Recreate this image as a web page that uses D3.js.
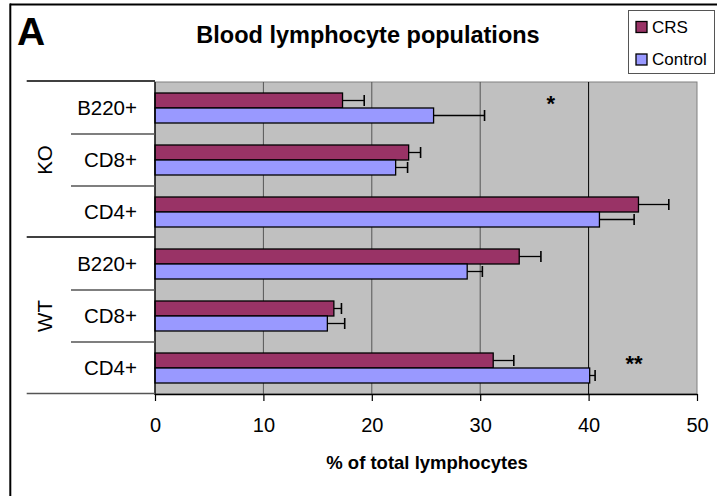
<!DOCTYPE html>
<html>
<head>
<meta charset="utf-8">
<script src="https://cdn.jsdelivr.net/npm/d3@7"></script>
<style>
  html, body { margin: 0; padding: 0; background: #fff; }
  svg { display: block; font-family: Arial, "Liberation Sans", sans-serif; }
</style>
</head>
<body>
<svg id="chart" width="717" height="496"></svg>
<script>
// Lymphocyte populations, listed top to bottom as drawn
const groups = ["KO", "KO", "KO", "WT", "WT", "WT"];
const categories = ["B220+", "CD8+", "CD4+", "B220+", "CD8+", "CD4+"];
const seriesNames = ["CRS", "Control"];
const crsValues = [17.3, 23.4, 44.6, 33.6, 16.5, 31.2];
const crsErrors = [2.0, 1.1, 2.8, 2.0, 0.7, 1.9];
const controlValues = [25.7, 22.2, 41.0, 28.8, 15.9, 40.1];
const controlErrors = [4.7, 1.1, 3.2, 1.4, 1.6, 0.5];
const xTicks = [0, 10, 20, 30, 40, 50];
// significance marks (label, x in % units), drawn beside the CRS bar
const sigLabels = ["*", "", "", "", "", "**"];
const sigX = [36.5, null, null, null, null, 44.2];

const colors = { CRS: "#993366", Control: "#9999FF" };
const keys = categories.map((c, i) => i);

const svg = d3.select("#chart");
const plotL = 155, plotR = 697, plotT = 82, plotB = 394;

const x = d3.scaleLinear().domain([0, 50]).range([plotL, plotR]);
const y = d3.scaleBand().domain(keys).range([plotT, plotB]).padding(0);
const ySub = d3.scaleBand().domain(seriesNames).range([0, y.bandwidth()])
  .paddingInner(0).paddingOuter(0.7333);

// outer frame (top and left edges)
svg.append("line").attr("x1", 10).attr("x2", 717).attr("y1", 4.5).attr("y2", 4.5)
  .attr("stroke", "#000").attr("stroke-width", 2);
svg.append("line").attr("x1", 10.3).attr("x2", 10.3).attr("y1", 3.5).attr("y2", 496)
  .attr("stroke", "#000").attr("stroke-width", 2);

// plot background
svg.append("rect").attr("x", plotL).attr("y", plotT)
  .attr("width", plotR - plotL).attr("height", plotB - plotT)
  .attr("fill", "#C0C0C0").attr("stroke", "#808080").attr("stroke-width", 1);

// vertical gridlines
svg.append("g").selectAll("line").data(xTicks.filter(t => t > 0 && t < 50)).join("line")
  .attr("x1", d => x(d)).attr("x2", d => x(d))
  .attr("y1", plotT).attr("y2", plotB)
  .attr("stroke", d => d === 40 ? "#000" : "#555").attr("stroke-width", 1);

// bars
const rows = keys.map(i => ({
  i,
  bars: [
    { s: "CRS", v: crsValues[i], e: crsErrors[i] },
    { s: "Control", v: controlValues[i], e: controlErrors[i] }
  ]
}));

const rowG = svg.append("g").selectAll("g").data(rows).join("g")
  .attr("transform", d => `translate(0,${y(d.i)})`);

rowG.selectAll("rect").data(d => d.bars).join("rect")
  .attr("x", x(0))
  .attr("y", d => ySub(d.s))
  .attr("width", d => x(d.v) - x(0))
  .attr("height", ySub.bandwidth())
  .attr("fill", d => colors[d.s])
  .attr("stroke", "#000").attr("stroke-width", 1.3);

// positive error bars with caps
const err = rowG.selectAll("g.err").data(d => d.bars).join("g").attr("class", "err");
err.append("line")
  .attr("x1", d => x(d.v)).attr("x2", d => x(d.v + d.e))
  .attr("y1", d => ySub(d.s) + ySub.bandwidth() / 2)
  .attr("y2", d => ySub(d.s) + ySub.bandwidth() / 2)
  .attr("stroke", "#000").attr("stroke-width", 1.3);
err.append("line")
  .attr("x1", d => x(d.v + d.e)).attr("x2", d => x(d.v + d.e))
  .attr("y1", d => ySub(d.s) + ySub.bandwidth() / 2 - 5.5)
  .attr("y2", d => ySub(d.s) + ySub.bandwidth() / 2 + 5.5)
  .attr("stroke", "#000").attr("stroke-width", 1.6);

// significance marks
svg.append("g").selectAll("text").data(keys.filter(i => sigLabels[i])).join("text")
  .attr("x", i => x(sigX[i]))
  .attr("y", i => y(i) + ySub("CRS") + ySub.bandwidth() / 2 + 11)
  .attr("text-anchor", "middle")
  .attr("font-size", 22).attr("font-weight", "bold")
  .text(i => sigLabels[i]);

// x axis
const xAxis = svg.append("g").attr("transform", `translate(0,${plotB})`)
  .call(d3.axisBottom(x).tickValues(xTicks).tickSize(7).tickPadding(17).tickSizeOuter(0));
xAxis.select(".domain").attr("stroke", "#000").attr("stroke-width", 1.3);
xAxis.selectAll(".tick line").attr("stroke", "#000").attr("stroke-width", 1.2);
xAxis.selectAll(".tick text").attr("font-size", 20).attr("fill", "#000")
  .attr("font-family", "Arial, 'Liberation Sans', sans-serif");

// y axis line
svg.append("line").attr("x1", plotL).attr("x2", plotL).attr("y1", plotT).attr("y2", plotB + 1)
  .attr("stroke", "#000").attr("stroke-width", 1.3);

// category labels
svg.append("g").selectAll("text").data(keys).join("text")
  .attr("x", 137)
  .attr("y", i => y(i) + y.bandwidth() / 2)
  .attr("dy", "0.35em")
  .attr("text-anchor", "end")
  .attr("font-size", 20.5)
  .text(i => categories[i]);

// separators between categories within a group
svg.append("g").selectAll("line")
  .data(keys.filter(i => i > 0 && groups[i] === groups[i - 1])).join("line")
  .attr("x1", 71).attr("x2", plotL)
  .attr("y1", i => y(i)).attr("y2", i => y(i))
  .attr("stroke", "#555").attr("stroke-width", 1.3);

// separators between groups
const groupNames = Array.from(new Set(groups));
const groupBounds = [plotT, ...keys.filter(i => i > 0 && groups[i] !== groups[i - 1]).map(i => y(i)), plotB + 0.5];
svg.append("g").selectAll("line").data(groupBounds).join("line")
  .attr("x1", 26.7).attr("x2", plotL)
  .attr("y1", d => d - 1).attr("y2", d => d - 1)
  .attr("stroke", (d, j) => j === groupBounds.length - 1 ? "#555" : "#000")
  .attr("stroke-width", 1.3);

// group labels (rotated)
svg.append("g").selectAll("text").data(groupNames).join("text")
  .attr("transform", g => {
    const idx = keys.filter(i => groups[i] === g);
    const cy = (y(idx[0]) + y(idx[idx.length - 1]) + y.bandwidth()) / 2;
    return `translate(44.5,${cy}) rotate(-90)`;
  })
  .attr("dy", "0.35em")
  .attr("text-anchor", "middle")
  .attr("font-size", 20.5)
  .text(g => g);

// titles
svg.append("text").attr("x", 17).attr("y", 45)
  .attr("font-size", 39).attr("font-weight", "bold").text("A");
svg.append("text").attr("x", 368).attr("y", 43.3)
  .attr("text-anchor", "middle")
  .attr("font-size", 23.5).attr("font-weight", "bold")
  .text("Blood lymphocyte populations");
svg.append("text").attr("x", (plotL + plotR) / 2 + 1).attr("y", 469)
  .attr("text-anchor", "middle")
  .attr("font-size", 18.5).attr("font-weight", "bold")
  .text("% of total lymphocytes");

// legend
const legend = svg.append("g");
legend.append("rect").attr("x", 628.5).attr("y", 10.5).attr("width", 86).attr("height", 63)
  .attr("fill", "#fff").attr("stroke", "#555").attr("stroke-width", 1);
const li = legend.selectAll("g.item").data(seriesNames).join("g").attr("class", "item")
  .attr("transform", (d, i) => `translate(0,${[27, 59.5][i]})`);
li.append("rect").attr("x", 636).attr("y", -5.5).attr("width", 11).attr("height", 11)
  .attr("fill", d => colors[d]).attr("stroke", "#000").attr("stroke-width", 1.3);
li.append("text").attr("x", 652).attr("dy", "0.35em")
  .attr("font-size", 17).text(d => d);
</script>
</body>
</html>
